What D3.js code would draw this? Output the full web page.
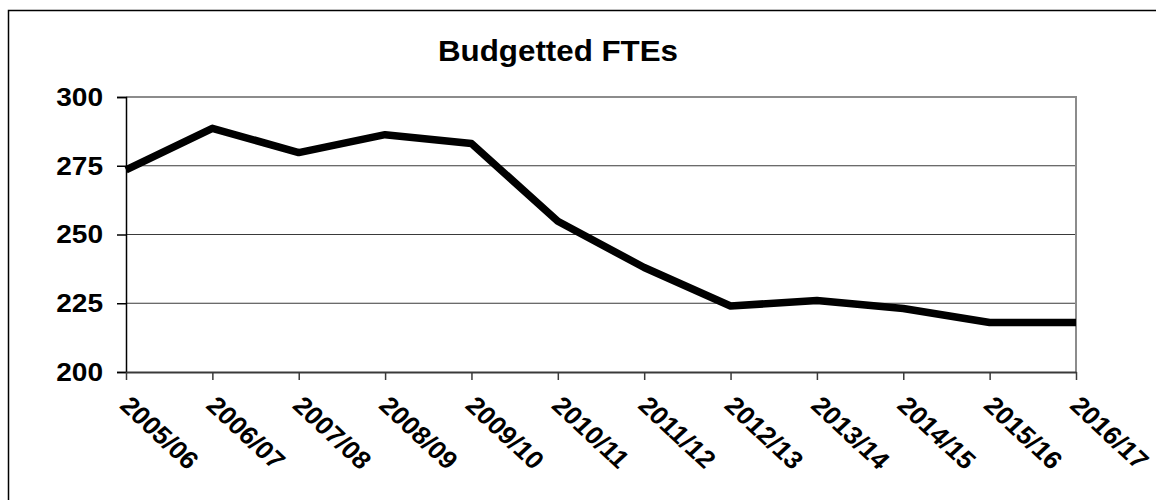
<!DOCTYPE html>
<html lang="en">
<head>
    <meta charset="UTF-8">
    <title>Budgetted FTEs</title>
    <script src="https://d3js.org/d3.v7.min.js"></script>
    <style>
        body { margin: 0; background: #fff; }
        text { font-family: Arial, "Liberation Sans", sans-serif; font-weight: bold; fill: #000; }
    </style>
</head>
<body>
    <div id="chart"></div>
    <script>
        const years = ["2005/06", "2006/07", "2007/08", "2008/09", "2009/10", "2010/11",
                       "2011/12", "2012/13", "2013/14", "2014/15", "2015/16", "2016/17"];
        const ftes = [273.5, 288.6, 279.8, 286.3, 283.1, 254.8, 238, 224, 226, 223.1, 218, 218];
        const y_ticks = [200, 225, 250, 275, 300];

        // the source picture is a bit wider than tall
        const stretch = 1.08;

        const svg = d3.select("#chart")
            .append("svg")
            .attr("width", 1156)
            .attr("height", 500);

        // outer frame
        svg.append("rect")
            .attr("x", 8.5)
            .attr("y", 10.5)
            .attr("width", 1300)
            .attr("height", 700)
            .attr("fill", "none")
            .attr("stroke", "#000")
            .attr("stroke-width", 1.5);

        const plot_left = 126, plot_right = 1076, plot_top = 97, plot_bottom = 372;

        const x_axis = d3.scalePoint()
            .domain(years)
            .range([plot_left, plot_right]);

        const y_axis = d3.scaleLinear()
            .domain([200, 300])
            .range([plot_bottom, plot_top]);

        svg.append("text")
            .attr("transform", "translate(558, 61) scale(" + stretch + ",1)")
            .attr("text-anchor", "middle")
            .attr("font-size", "29px")
            .text("Budgetted FTEs");

        // gridlines
        svg.append("g")
            .selectAll("line")
            .data(y_ticks.filter(d => d > 200 && d < 300))
            .enter()
            .append("line")
            .attr("x1", plot_left)
            .attr("x2", plot_right)
            .attr("y1", d => y_axis(d))
            .attr("y2", d => y_axis(d))
            .attr("stroke", "#3a3a3a")
            .attr("stroke-width", 1.2);

        // plot area border (top + right)
        svg.append("path")
            .attr("d", `M${plot_left},${plot_top}H${plot_right}V${plot_bottom}`)
            .attr("fill", "none")
            .attr("stroke", "#8c8c8c")
            .attr("stroke-width", 2);

        // y axis
        const yg = svg.append("g")
            .attr("transform", `translate(${plot_left}, 0)`)
            .call(d3.axisLeft(y_axis).tickValues(y_ticks).tickSize(9).tickPadding(14));
        yg.select(".domain").attr("stroke", "#000").attr("stroke-width", 1.5);
        yg.selectAll(".tick line").attr("stroke", "#000").attr("stroke-width", 1.5);
        yg.selectAll(".tick text")
            .attr("font-size", "26px")
            .attr("font-family", "Arial, 'Liberation Sans', sans-serif")
            .attr("font-weight", "bold")
            .attr("fill", "#000")
            .attr("x", -23 / stretch)
            .attr("transform", "scale(" + stretch + ",1)");

        // x axis
        const xg = svg.append("g")
            .attr("transform", `translate(0, ${plot_bottom})`)
            .call(d3.axisBottom(x_axis).tickSize(8).tickSizeOuter(0));
        xg.select(".domain").attr("stroke", "#3a3a3a").attr("stroke-width", 2);
        xg.selectAll(".tick line").attr("stroke", "#3a3a3a").attr("stroke-width", 1.5);
        xg.selectAll(".tick text")
            .attr("font-size", "25px")
            .attr("font-family", "Arial, 'Liberation Sans', sans-serif")
            .attr("font-weight", "bold")
            .attr("fill", "#000")
            .attr("text-anchor", "start")
            .attr("dy", null)
            .attr("y", null)
            .attr("transform", "translate(-8, 35) scale(" + stretch + ",1) rotate(45)");

        // the line
        const line = d3.line()
            .x((d, i) => x_axis(years[i]))
            .y(d => y_axis(d));

        svg.append("path")
            .datum(ftes)
            .attr("d", line)
            .attr("fill", "none")
            .attr("stroke", "#000")
            .attr("stroke-width", 7.5)
            .attr("stroke-linejoin", "round");
    </script>
</body>
</html>
